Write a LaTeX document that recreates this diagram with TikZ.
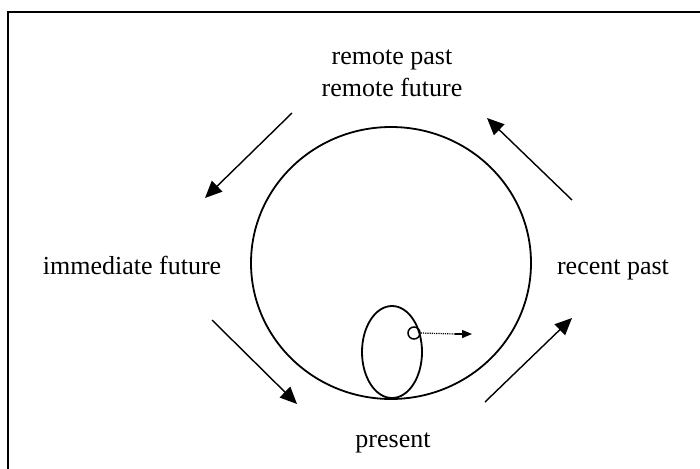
\documentclass[tikz,border=0pt]{standalone}
\usepackage{fontspec}
\setmainfont{Liberation Serif}
\usetikzlibrary{arrows.meta}
\begin{document}
\begin{tikzpicture}[x=1pt,y=-1pt,
  lbl/.style={font=\fontsize{26}{31}\selectfont, inner sep=0pt, anchor=base},
  bigarrow/.style={line width=1.4pt, -{Triangle[length=17pt,width=15pt]}},
  ring/.style={draw, line width=1.8pt}]
\useasboundingbox (0,0) rectangle (700,468);
\draw[line width=2.2pt] (8,470) -- (8,12) -- (702,12);
% circles
\draw[ring] (391,263) ellipse [x radius=140, y radius=136];
\draw[ring] (392,352) ellipse [x radius=30, y radius=46];
\node[circle, draw, line width=1.5pt, minimum size=12pt, inner sep=0pt] (sc) at (414,333) {};
\coordinate (dd) at (455,334);
\coordinate (de) at (472,334);
\draw[line width=1.2pt, densely dotted] (sc.east) -- (dd);
\draw[line width=1.2pt, -{Triangle[length=10pt,width=8pt]}] (dd) -- (de);
% labels
\node[lbl] (rp) at (392,65) {remote past};
\node[lbl] (rf) at (392,96) {remote future};
\node[lbl] (imf) at (132,274) {immediate future};
\node[lbl] (rcp) at (613,274) {recent past};
\node[lbl] (pr) at (393,447) {present};
% arrows
\coordinate (a1s) at (292,113); \coordinate (a1e) at (205,198);
\coordinate (a2s) at (572,200); \coordinate (a2e) at (487,118);
\coordinate (a3s) at (212,320); \coordinate (a3e) at (297,404);
\coordinate (a4s) at (485,402); \coordinate (a4e) at (572,318);
\draw[bigarrow] (a1s) -- (a1e);
\draw[bigarrow] (a2s) -- (a2e);
\draw[bigarrow] (a3s) -- (a3e);
\draw[bigarrow] (a4s) -- (a4e);
\end{tikzpicture}
\end{document}
